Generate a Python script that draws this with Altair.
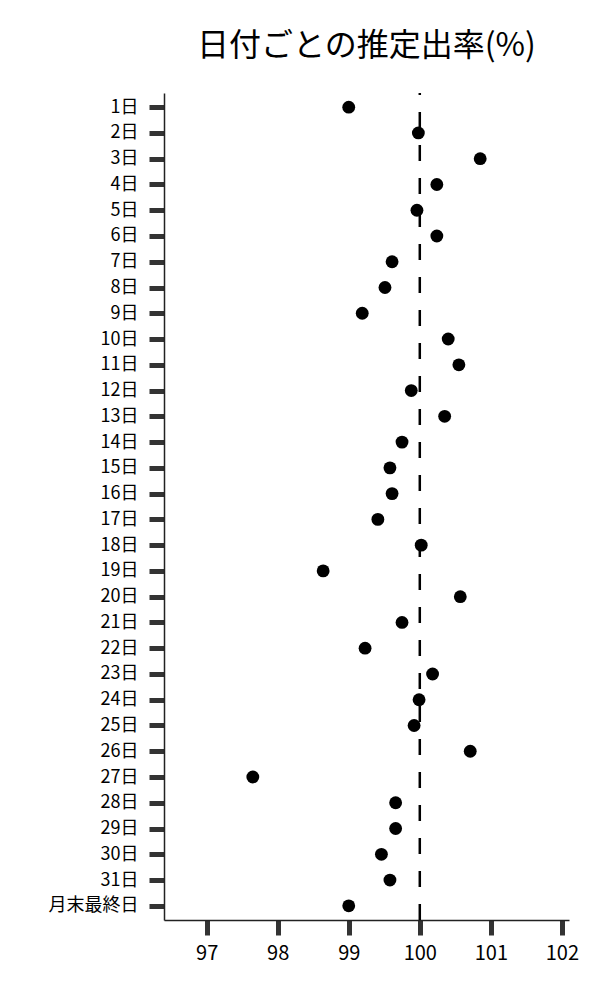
import altair as alt
import pandas as pd

days = [f"{i}日" for i in range(1, 32)] + ["月末最終日"]
rates = [99.00, 99.98, 100.85, 100.24, 99.96, 100.24, 99.61, 99.51, 99.19, 100.40,
         100.55, 99.88, 100.35, 99.75, 99.58, 99.61, 99.41, 100.02, 98.64, 100.57,
         99.75, 99.23, 100.18, 99.99, 99.92, 100.71, 97.65, 99.66, 99.66, 99.46,
         99.58, 99.00]
ref_value = [100]
x_ticks = [97, 98, 99, 100, 101, 102]

df = pd.DataFrame({"day": days, "rate": rates})
ref_df = pd.DataFrame({"ref": ref_value})

FONT = "Noto Sans CJK JP"
W, H = 405, 827

x_scale = alt.Scale(domain=[96.4, 102.1], nice=False, zero=False)

points = alt.Chart(df).mark_circle(size=165, color="black", opacity=1).encode(
    x=alt.X("rate:Q", scale=x_scale,
            axis=alt.Axis(values=x_ticks, format="d", title=None, grid=False,
                          tickSize=15, tickWidth=5, tickColor="#333333",
                          domainColor="#222222", domainWidth=1.5,
                          labelFontSize=20, labelFont=FONT,
                          labelColor="black", labelPadding=8)),
    y=alt.Y("day:N", sort=days, scale=alt.Scale(type="point", padding=0.55),
            axis=alt.Axis(title=None, grid=False, tickSize=15, tickWidth=5,
                          tickColor="#333333", domainColor="#222222",
                          domainWidth=1.5, labelFontSize=18, labelFont=FONT,
                          labelColor="black", labelPadding=11)),
)

rule = alt.Chart(ref_df).mark_rule(color="black", strokeWidth=2.5,
                                   strokeDash=[16, 17]).encode(
    x=alt.X("ref:Q", scale=x_scale),
    y=alt.value(H),
    y2=alt.value(0),
)

chart = alt.layer(rule, points).properties(
    width=W,
    height=H,
    autosize=alt.AutoSizeParams(type="none"),
    padding={"left": 156, "top": 85, "right": 20, "bottom": 60},
    title=alt.TitleParams("日付ごとの推定出率(%)", fontSize=32, font=FONT,
                          fontWeight="normal", color="black", anchor="middle",
                          frame="group", offset=29),
).configure_view(stroke=None)

chart.save("out.html", embed_options={"renderer": "svg", "actions": False})
